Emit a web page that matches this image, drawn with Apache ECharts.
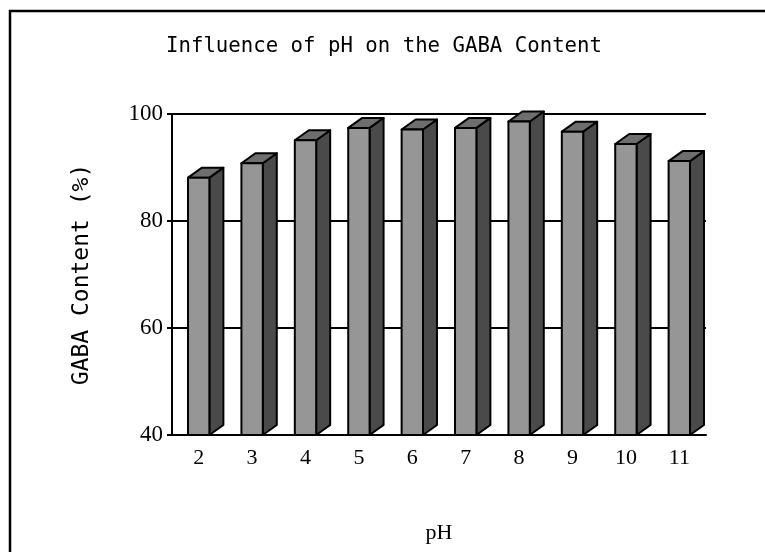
<!DOCTYPE html>
<html lang="en">
<head>
    <meta charset="UTF-8">
    <title>GABA pH</title>
    <script src="https://cdn.jsdelivr.net/npm/echarts@6/dist/echarts.min.js"></script>
    <style>
        html, body { margin: 0; padding: 0; background: #fff; }
    </style>
</head>
<body>
    <div id="main" style="width: 765px;height:552px;"></div>
</body>
    <script type="text/javascript">
        // pH values on the x axis
        var phLabels = ['2', '3', '4', '5', '6', '7', '8', '9', '10', '11'];
        // GABA content (%)
        var gabaContent = [88.1, 90.8, 95.1, 97.4, 97.1, 97.4, 98.6, 96.7, 94.4, 91.2];
        var yTicks = [40, 60, 80, 100];

        var myChart = echarts.init(document.getElementById('main'));

        var barData = gabaContent.map(function (v, i) { return [i, v]; });

        // 3D look: front face, dark side, top
        function renderBar(params, api) {
            var top = api.coord([api.value(0), api.value(1)]);
            var base = api.coord([api.value(0), yTicks[0]]);
            var w = api.size([1, 0])[0] * 0.4;
            var x0 = top[0] - w / 2, x1 = top[0] + w / 2;
            var dx = 14, dy = 10;
            var line = { stroke: '#000', lineWidth: 2, lineJoin: 'round' };
            return {
                type: 'group',
                children: [
                    {
                        type: 'polygon',
                        shape: { points: [[x1, base[1]], [x1 + dx, base[1] - dy], [x1 + dx, top[1] - dy], [x1, top[1]]] },
                        style: Object.assign({ fill: '#4a4a4a' }, line)
                    },
                    {
                        type: 'polygon',
                        shape: { points: [[x0, top[1]], [x0 + dx, top[1] - dy], [x1 + dx, top[1] - dy], [x1, top[1]]] },
                        style: Object.assign({ fill: '#6e6e6e' }, line)
                    },
                    {
                        type: 'rect',
                        shape: { x: x0, y: top[1], width: w, height: base[1] - top[1] },
                        style: Object.assign({ fill: '#969696' }, line)
                    }
                ]
            };
        }

        var option = {
            animation: false,
            backgroundColor: '#fff',
            title: {
                text: 'Influence of pH on the GABA Content',
                left: 379,
                top: 31,
                textAlign: 'center',
                textStyle: {
                    fontFamily: 'DejaVu Sans Mono',
                    fontSize: 20.7,
                    fontWeight: 'normal',
                    color: '#000'
                }
            },
            graphic: [
                {
                    type: 'rect',
                    shape: { x: 10, y: 11, width: 800, height: 600 },
                    style: { fill: 'none', stroke: '#000', lineWidth: 2.5 },
                    silent: true
                }
            ],
            grid: {
                left: 172,
                right: 59,
                top: 114,
                bottom: 117,
                outerBoundsMode: 'none'
            },
            xAxis: {
                type: 'category',
                data: phLabels,
                name: 'pH',
                nameLocation: 'middle',
                nameGap: 87,
                nameTextStyle: {
                    fontFamily: 'Liberation Serif',
                    fontSize: 22,
                    color: '#000'
                },
                axisLine: { lineStyle: { color: '#000', width: 2 } },
                axisTick: { inside: true, length: 6, lineStyle: { color: '#000', width: 2 } },
                axisLabel: {
                    margin: 12,
                    fontFamily: 'Liberation Serif',
                    fontSize: 22,
                    color: '#000'
                }
            },
            yAxis: {
                type: 'value',
                min: yTicks[0],
                max: yTicks[yTicks.length - 1],
                interval: 20,
                name: 'GABA Content (%)',
                nameLocation: 'middle',
                nameGap: 78,
                nameTextStyle: {
                    fontFamily: 'DejaVu Sans Mono',
                    fontSize: 23,
                    color: '#000'
                },
                axisLine: { show: true, lineStyle: { color: '#000', width: 2 } },
                axisTick: { show: true, length: 5, lineStyle: { color: '#000', width: 2 } },
                axisLabel: {
                    margin: 9,
                    fontFamily: 'Liberation Serif',
                    fontSize: 23,
                    color: '#000'
                },
                splitLine: { lineStyle: { color: '#000', width: 2 } }
            },
            series: [
                {
                    type: 'custom',
                    renderItem: renderBar,
                    encode: { x: 0, y: 1 },
                    data: barData,
                    clip: false
                }
            ]
        };

        myChart.setOption(option);
    </script>
</html>
